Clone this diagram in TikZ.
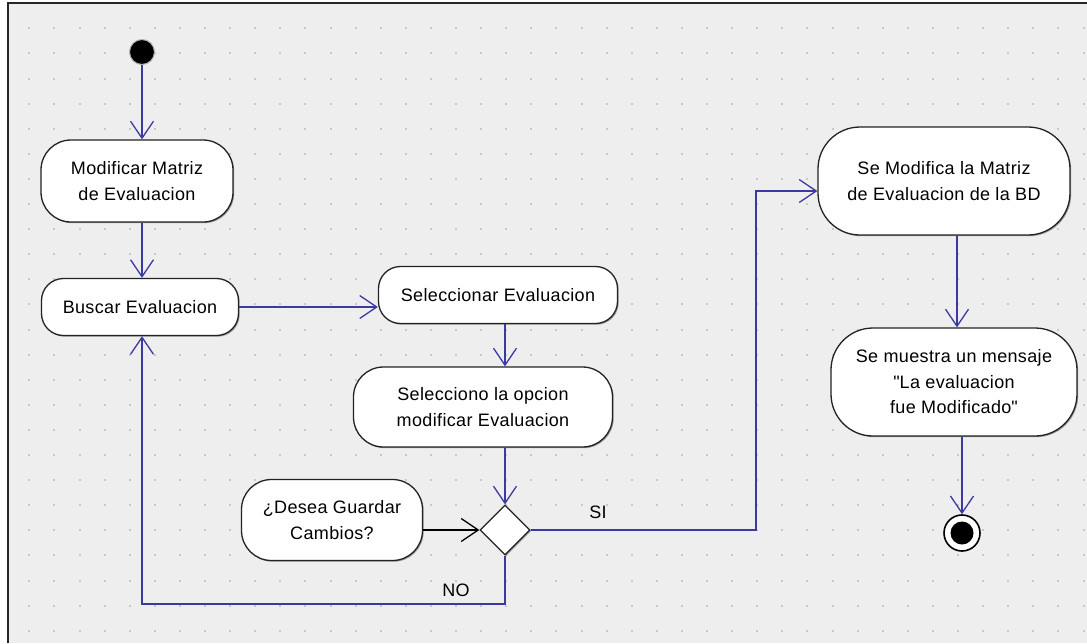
\documentclass[tikz,border=0pt]{standalone}
\usepackage{fontspec}
\setmainfont{Liberation Sans}[LetterSpace=2]
\usetikzlibrary{arrows.meta,shapes.geometric,shadows}
\definecolor{flow}{RGB}{58,58,160}
\definecolor{paper}{RGB}{238,238,238}
\definecolor{griddot}{RGB}{200,200,200}
\definecolor{edge}{RGB}{35,35,35}

\begin{document}
\begin{tikzpicture}[x=1pt,y=-1pt,
  font=\fontsize{18}{25.5}\selectfont,
  act/.style={draw=edge, line width=1.3pt, fill=white, rounded corners=#1,
    align=center, inner sep=0pt,
    drop shadow={shadow xshift=1.2pt, shadow yshift=-1.2pt, fill=black, opacity=0.35}},
  flowline/.style={draw=flow, line width=1.3pt},
  flowarrow/.style={flowline, -{Straight Barb[length=17pt, width=23pt]}},
  blackarrow/.style={draw=black, line width=1.3pt, -{Straight Barb[length=17pt, width=23pt]}},
  guard/.style={inner sep=0pt}
]
\useasboundingbox (0,0) rectangle (1087,643);

% canvas with dotted grid
\fill[white] (0,0) rectangle (1087,643);
\fill[paper] (8,3) rectangle (1087,643);
\foreach \i in {0,...,42}
  \foreach \j in {0,...,24}
    \fill[griddot] ({28.3+25.1*\i},{27.3+25.1*\j}) rectangle ++(2,2);
\draw[line width=2pt, black!85] (8,643) -- (8,3) -- (1087,3);

% initial and final states
\node[circle, fill=black, draw=gray!60, line width=1pt, minimum size=25pt, inner sep=0pt] (start) at (142,52) {};
\node[circle, draw=black, line width=1.6pt, fill=white, minimum size=36pt, inner sep=0pt] (end) at (962,533) {};
\fill[black] (end.center) circle (11.5);

% activities
\node[act=30, minimum width=192pt, minimum height=82pt] (mod) at (137,181) {Modificar Matriz\\de Evaluacion};
\node[act=22, minimum width=197pt, minimum height=57pt] (bus) at (140,307) {Buscar Evaluacion};
\node[act=22, minimum width=239pt, minimum height=57pt] (sel) at (498,295) {Seleccionar Evaluacion};
\node[act=30, minimum width=259pt, minimum height=80pt] (opc) at (483,407) {Selecciono la opcion\\modificar Evaluacion};
\node[act=30, minimum width=181pt, minimum height=81pt] (desea) at (332,520) {¿Desea Guardar\\Cambios?};
\node[act=42, minimum width=252pt, minimum height=108pt] (bd) at (944,181) {Se Modifica la Matriz\\de Evaluacion de la BD};
\node[act=42, minimum width=246pt, minimum height=108pt] (msg) at (954,382) {Se muestra un mensaje\\\textquotedbl La evaluacion\\fue Modificado\textquotedbl};

% decision
\node[diamond, draw=edge, fill=white, line width=1.3pt, minimum width=50pt, minimum height=50pt, inner sep=0pt,
  drop shadow={shadow xshift=1.2pt, shadow yshift=-1.2pt, fill=black, opacity=0.35}] (dia) at (505,530) {};

% routing points
\coordinate (nocorner) at (142,604);
\coordinate (sicorner) at (756,191);
\coordinate (bdcol) at (957,0);

% flows
\draw[flowarrow] (start.south) -- (start |- mod.north);
\draw[flowarrow] (start |- mod.south) -- (start |- bus.north);
\draw[flowarrow] (bus.east) -- (bus.east -| sel.west);
\draw[flowarrow] (dia |- sel.south) -- (dia |- opc.north);
\draw[flowarrow] (dia |- opc.south) -- (dia.north);
\draw[blackarrow] (desea.east |- dia.west) -- (dia.west);
\draw[flowarrow] (dia.south) |- (nocorner) -- (start |- bus.south);
\draw[flowarrow] (dia.east) -| (sicorner) -- (sicorner -| bd.west);
\draw[flowarrow] (bdcol |- bd.south) -- (bdcol |- msg.north);
\draw[flowarrow] (end |- msg.south) -- (end.north);

% guards
\node[guard] (no) at (456,590) {NO};
\node[guard] (si) at (598,512) {SI};
\end{tikzpicture}
\end{document}
